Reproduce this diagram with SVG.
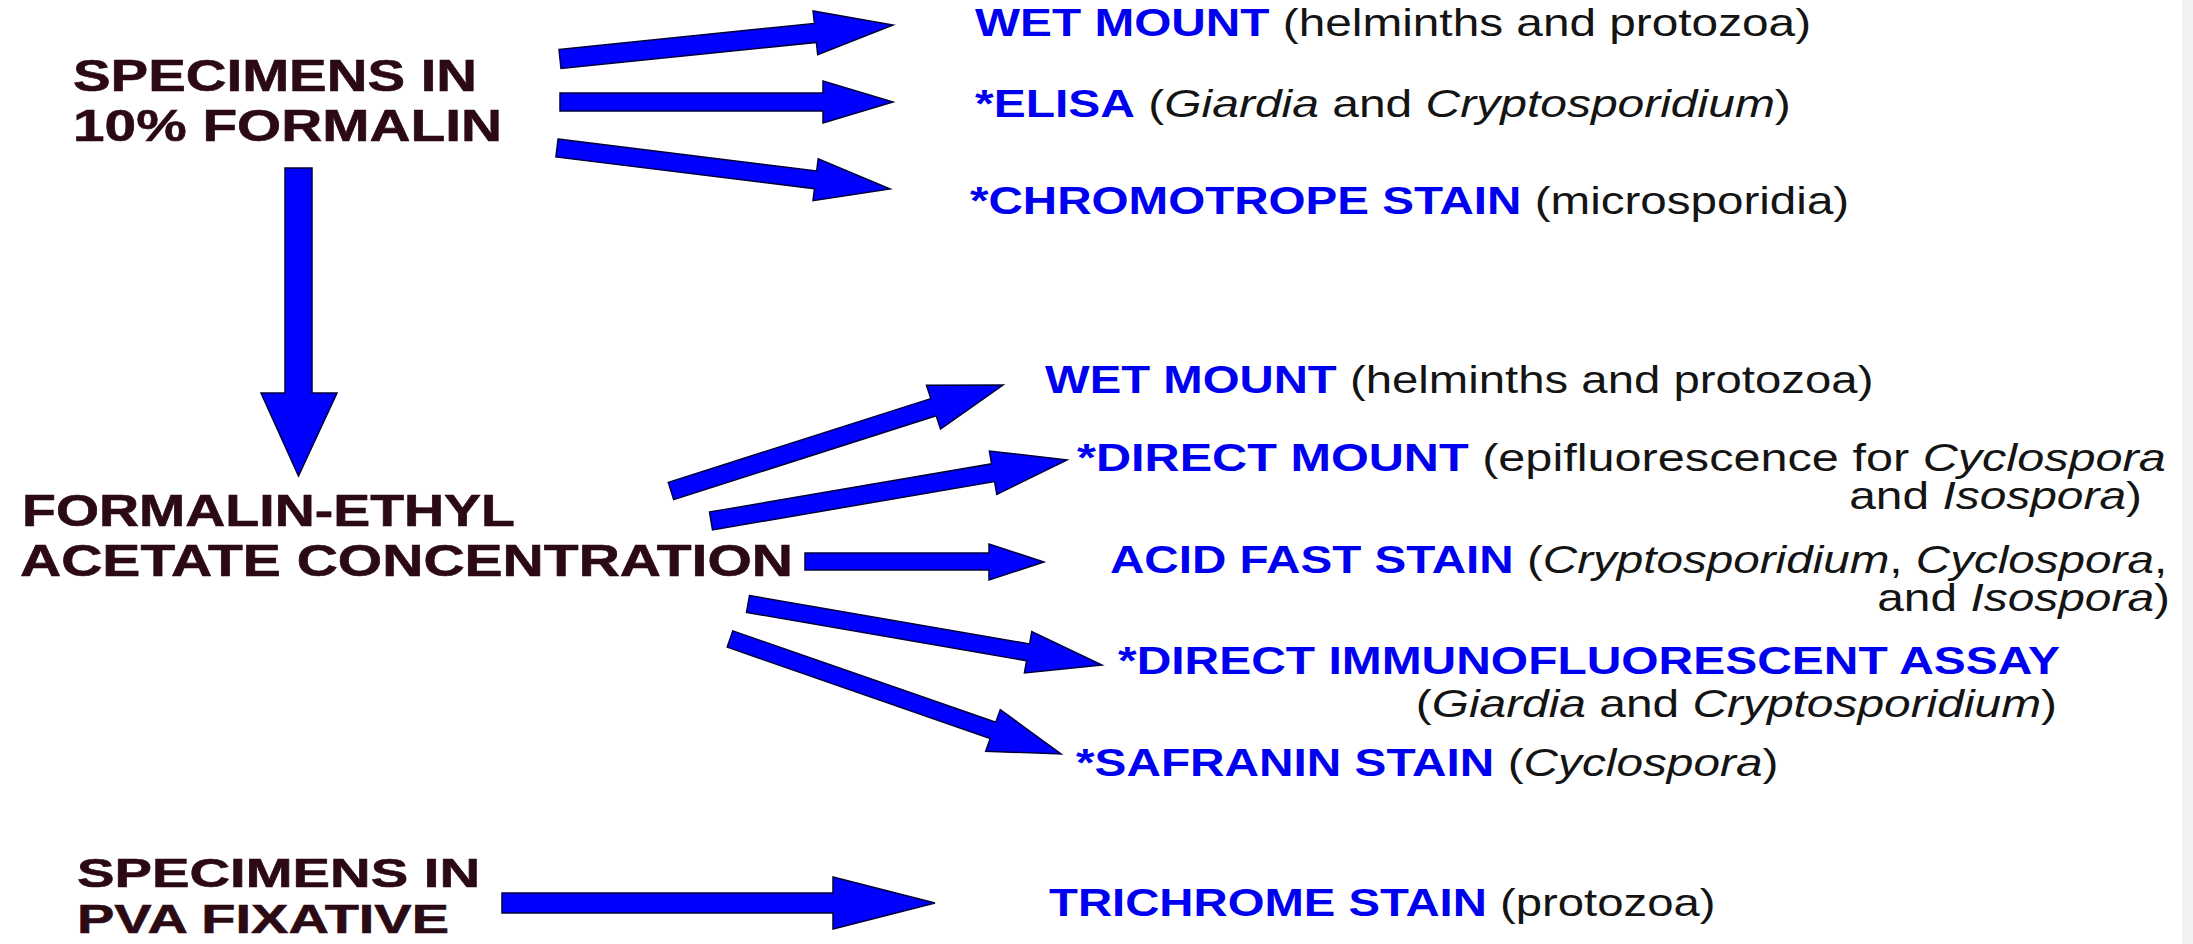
<svg xmlns="http://www.w3.org/2000/svg" width="2193" height="944" viewBox="0 0 2193 944">
<style>
.t{font-family:"Liberation Sans",Arial,sans-serif;font-size:38px;fill:#141414}
.b{font-weight:bold;fill:#0000f0}
.i{font-style:italic}
.lab{font-family:"Liberation Sans",Arial,sans-serif;font-size:45px;font-weight:bold;fill:#2b0a14;stroke:#2b0a14;stroke-width:0.6}
.arr{fill:#0000ff;stroke:#00003a;stroke-width:1.5;stroke-linejoin:miter}
</style>
<rect x="0" y="0" width="2193" height="944" fill="#ffffff"/>
<rect x="2182" y="0" width="11" height="944" fill="#f1f1f1"/>

<g id="src-formalin">
<text class="lab" x="73" y="91" textLength="404" lengthAdjust="spacingAndGlyphs">SPECIMENS IN</text>
<text class="lab" x="73" y="141" textLength="429" lengthAdjust="spacingAndGlyphs">10% FORMALIN</text>
</g>
<g id="src-fea">
<text class="lab" x="22" y="526" textLength="493" lengthAdjust="spacingAndGlyphs">FORMALIN-ETHYL</text>
<text class="lab" x="20" y="576" textLength="773" lengthAdjust="spacingAndGlyphs">ACETATE CONCENTRATION</text>
</g>
<g id="src-pva">
<text class="lab" x="77" y="887" textLength="403" lengthAdjust="spacingAndGlyphs" style="font-size:41px">SPECIMENS IN</text>
<text class="lab" x="77" y="933" textLength="372" lengthAdjust="spacingAndGlyphs" style="font-size:41px">PVA FIXATIVE</text>
</g>

<g id="t-wet1" transform="translate(975,36) scale(1.257,1)"><text class="t"><tspan class="b">WET MOUNT</tspan> (helminths and protozoa)</text></g>
<g id="t-elisa" transform="translate(975,117) scale(1.263,1)"><text class="t"><tspan class="b">*ELISA</tspan> (<tspan class="i">Giardia</tspan> and <tspan class="i">Cryptosporidium</tspan>)</text></g>
<g id="t-chromo" transform="translate(970,214) scale(1.252,1)"><text class="t"><tspan class="b">*CHROMOTROPE STAIN</tspan> (microsporidia)</text></g>

<g id="t-wet2" transform="translate(1045,393) scale(1.246,1)"><text class="t"><tspan class="b">WET MOUNT</tspan> (helminths and protozoa)</text></g>
<g id="t-direct">
<g transform="translate(1077,471) scale(1.28,1)"><text class="t"><tspan class="b">*DIRECT MOUNT</tspan> (epifluorescence for <tspan class="i">Cyclospora</tspan></text></g>
<g transform="translate(2142,509) scale(1.26,1)"><text class="t" text-anchor="end">and <tspan class="i">Isospora</tspan>)</text></g>
</g>
<g id="t-acid">
<g transform="translate(1110,573) scale(1.253,1)"><text class="t"><tspan class="b">ACID FAST STAIN</tspan> (<tspan class="i">Cryptosporidium</tspan>, <tspan class="i">Cyclospora</tspan>,</text></g>
<g transform="translate(2170,611) scale(1.26,1)"><text class="t" text-anchor="end">and <tspan class="i">Isospora</tspan>)</text></g>
</g>
<g id="t-dfa">
<g transform="translate(1118,674) scale(1.262,1)"><text class="t"><tspan class="b">*DIRECT IMMUNOFLUORESCENT ASSAY</tspan></text></g>
<g transform="translate(2057,717) scale(1.26,1)"><text class="t" text-anchor="end">(<tspan class="i">Giardia</tspan> and <tspan class="i">Cryptosporidium</tspan>)</text></g>
</g>
<g id="t-safranin" transform="translate(1076,776) scale(1.257,1)"><text class="t"><tspan class="b">*SAFRANIN STAIN</tspan> (<tspan class="i">Cyclospora</tspan>)</text></g>
<g id="t-trichrome" transform="translate(1049,916) scale(1.245,1)"><text class="t"><tspan class="b">TRICHROME STAIN</tspan> (protozoa)</text></g>

<g id="connectors">
<polygon class="arr" points="559.0,49.5 814.4,23.4 813.1,11.0 893,25 817.7,54.8 816.4,42.4 561.0,68.5"/>
<polygon class="arr" points="560,93 823,93 823,81 893,102 823,123 823,111 560,111"/>
<polygon class="arr" points="558.1,139.1 816.7,170.9 818.2,158.9 890,189 813.0,200.7 814.5,188.7 555.9,156.9"/>
<polygon class="arr" points="285,168 312,168 312,393 337,393 298.5,476 261,393 285,393"/>
<polygon class="arr" points="668.3,482.4 930.8,398.6 926.5,385.3 1003,385 940.5,429.1 936.2,415.8 673.7,499.6"/>
<polygon class="arr" points="709.5,512.1 991.6,463.8 989.4,451.0 1067,460 996.8,494.4 994.6,481.6 712.5,529.9"/>
<polygon class="arr" points="805,553 989,553 989,544 1044,562 989,580 989,570 805,570"/>
<polygon class="arr" points="749.5,595.6 1029.6,643.9 1031.8,631.6 1102,665 1024.4,673.0 1026.6,660.7 746.5,612.4"/>
<polygon class="arr" points="732.8,630.9 995.8,722.3 1000.3,709.6 1061,754 985.7,751.2 990.2,738.5 727.2,647.1"/>
<polygon class="arr" points="502,893 833,893 833,877 935,903 833,929 833,913 502,913"/>
</g>
</svg>
